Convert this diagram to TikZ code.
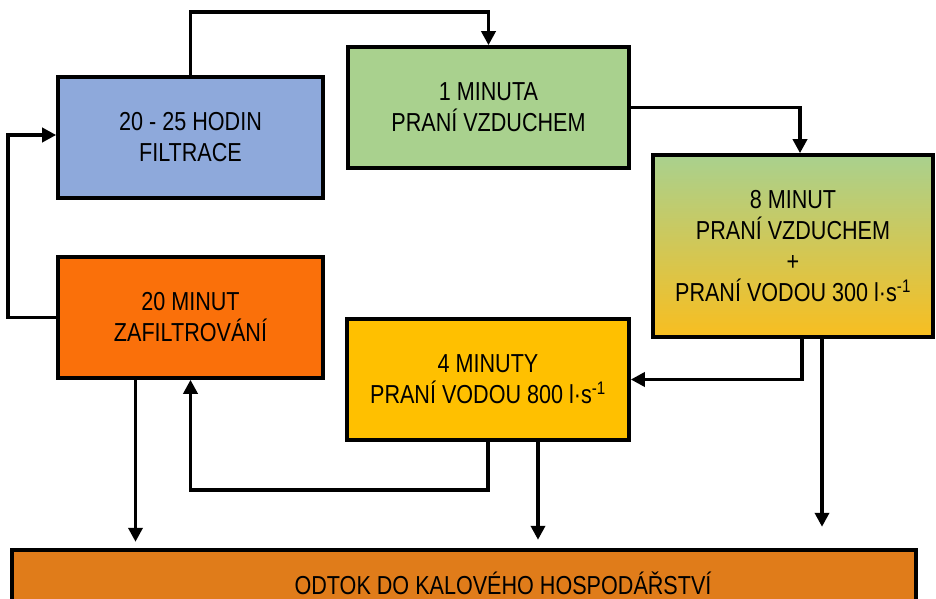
\documentclass[tikz,border=0pt]{standalone}
\usepackage{fontspec}
\setmainfont{Liberation Sans}[FakeStretch=0.83]
\usetikzlibrary{arrows.meta}
\definecolor{filtblue}{HTML}{8EA9DB}
\definecolor{airgreen}{HTML}{A9D18E}
\definecolor{mixyellow}{HTML}{F8BE20}
\definecolor{zaforange}{HTML}{FA700A}
\definecolor{wateryellow}{HTML}{FFC000}
\definecolor{sludge}{HTML}{E07C1A}

\begin{document}
\begin{tikzpicture}[x=1pt,y=-1pt,
    box/.style={draw=black, line width=3.6pt, align=center, inner sep=0pt,
        font=\fontsize{26}{31}\selectfont},
    arr/.style={line width=3.6pt, -{Triangle[length=14pt,width=14pt]}}]
    \useasboundingbox (0,0) rectangle (936,599);
    \clip (0,0) rectangle (936,599);
    % stages
    \node[box, fill=filtblue, minimum width=265, minimum height=121] (filt) at (190.5,137.5) {20 - 25 HODIN\\FILTRACE};
    \node[box, fill=airgreen, minimum width=281, minimum height=121] (air) at (488.5,107.5) {1 MINUTA\\PRANÍ VZDUCHEM};
    \node[box, top color=airgreen, bottom color=mixyellow, minimum width=280, minimum height=182] (mix) at (793,246) {8 MINUT\\PRANÍ VZDUCHEM\\+\\PRANÍ VODOU 300 l·s\textsuperscript{-1}};
    \node[box, fill=zaforange, minimum width=265, minimum height=121] (zaf) at (190.5,317.5) {20 MINUT\\ZAFILTROVÁNÍ};
    \node[box, fill=wateryellow, minimum width=282, minimum height=121] (water) at (488,379.5) {4 MINUTY\\PRANÍ VODOU 800 l·s\textsuperscript{-1}};
    \node[box, fill=sludge, minimum width=904, minimum height=66] (odtok) at (464,583) {\hspace*{78pt}ODTOK DO KALOVÉHO HOSPODÁŘSTVÍ};
    % cycle
    \draw[arr] (filt.north) -- ++(0,-63) -| (air.north);
    \draw[arr] (air.east) -| ([xshift=7]mix.north);
    \draw[arr] ([xshift=9]mix.south) |- (water.east);
    \draw[arr] (water.south) -- ++(0,48) -| (zaf.south);
    \draw[arr] (zaf.west) -- ++(-48,0) |- ([yshift=2.5]filt.west);
    % outflow
    \draw[arr] ([xshift=-55]zaf.south) -- ++(0,162);
    \draw[arr] ([xshift=50]water.south) -- ++(0,98);
    \draw[arr] ([xshift=29]mix.south) -- ++(0,188);
\end{tikzpicture}
\end{document}
